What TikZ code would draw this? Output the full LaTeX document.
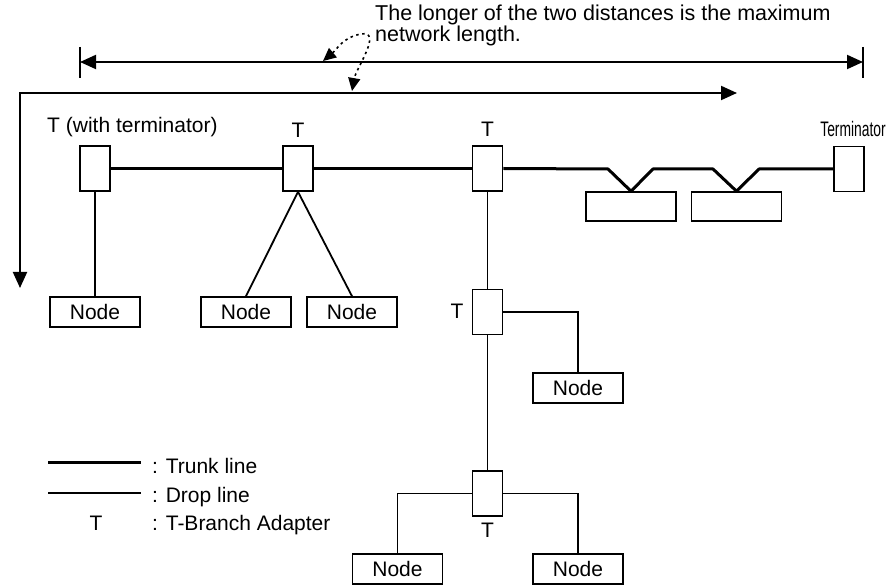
\documentclass[tikz,border=0pt]{standalone}
\usepackage{fontspec}
\setmainfont{Liberation Sans}
\usetikzlibrary{arrows.meta}
\begin{document}
\begin{tikzpicture}[x=1pt,y=-1pt,
  lbl/.style={font=\fontsize{21}{25}\selectfont, inner sep=0pt},
  toptext/.style={font=\fontsize{21.5}{25}\selectfont, inner sep=0pt},
  tbox/.style={draw, line width=1.6pt, fill=white, minimum width=30pt, minimum height=45pt, inner sep=0pt},
  nodebox/.style={draw, line width=1.6pt, fill=white, minimum width=90pt, minimum height=30pt, inner sep=0pt, font=\fontsize{21}{25}\selectfont},
  ifbox/.style={draw, line width=1.6pt, fill=white, minimum width=90pt, minimum height=29pt, inner sep=0pt},
  trunk/.style={line width=3pt},
  drop/.style={line width=1.8pt},
  dimline/.style={line width=2pt, {Triangle[length=16pt,width=14pt]}-{Triangle[length=16pt,width=14pt]}},
  dotarrow/.style={line width=1.6pt, dash pattern=on 2.5pt off 3.5pt, {Triangle[length=13pt,width=12pt]}-{Triangle[length=13pt,width=12pt]}},
]
\useasboundingbox (0,0) rectangle (887,585);

% top text
\node[toptext, anchor=base west] (txt1) at (375,21) {The longer of the two distances is the maximum};
\node[toptext, anchor=base west] (txt2) at (375,41.5) {network length.};

% dimension line
\coordinate (dl) at (80,62);
\coordinate (dr) at (863,62);
\draw[line width=1.5pt] (80,47) -- (80,78);
\draw[line width=1.5pt] (863,47) -- (863,78);
\draw[dimline] (dl) -- (dr);

% second arrow
\coordinate (a0) at (20,288);
\coordinate (a1) at (737,93);
\draw[dimline] (a0) |- (a1);

% dotted arrow
\coordinate (p1) at (323,61);
\coordinate (pm) at (361,34);
\coordinate (p2) at (352,91);
\draw[dotarrow] (p1) to[out=40,in=190] (pm) to[out=10,in=80] (p2);

% boxes
\node[tbox] (t1) at (95,168.5) {};
\node[tbox] (t2) at (298,168.5) {};
\node[tbox] (t3) at (487.5,168.5) {};
\node[tbox] (t4) at (487.5,312) {};
\node[tbox] (t5) at (487.5,493.5) {};
\node[tbox] (term) at (849,169) {};
\node[ifbox] (ifa) at (631,206.5) {};
\node[ifbox] (ifb) at (736.5,206.5) {};

\node[nodebox] (n1) at (95,312) {Node};
\node[nodebox] (n2) at (246,312) {Node};
\node[nodebox] (n3) at (352,312) {Node};
\node[nodebox] (n4) at (578,388) {Node};
\node[nodebox] (n5) at (397.5,569) {Node};
\node[nodebox] (n6) at (578,569) {Node};

% trunk line
\coordinate (b1) at (608,169);
\coordinate (b2) at (653,169);
\coordinate (b3) at (713,169);
\coordinate (b4) at (759,169);
\draw[trunk] (t1.east) -- (t2.west);
\draw[trunk] (t2.east) -- (t3.west);
\draw[trunk, line join=round] (t3.east) -- (b1) -- (ifa.north) -- (b2) -- (b3) -- (ifb.north) -- (b4) -- (term.west);

% drop lines
\draw[drop] (t1.south) -- (n1.north);
\draw[drop] (t2.south) -- (n2.north);
\draw[drop] (t2.south) -- (n3.north);
\draw[drop] (t3.south) -- (t4.north);
\draw[drop] (t4.east) -| (n4.north);
\draw[drop] (t4.south) -- (t5.north);
\draw[drop] (t5.east) -| (n6.north);
\draw[drop] (t5.west) -| (n5.north);

% labels
\node[lbl, anchor=base west] (lt1) at (47,133) {T (with terminator)};
\node[lbl, anchor=base] (lt2) at (298,138) {T};
\node[lbl, anchor=base] (lt3) at (487.5,137) {T};
\node[lbl, anchor=base] (lt4) at (457,319) {T};
\node[lbl, anchor=base] (lt5) at (487.5,537) {T};
\node[lbl, anchor=base east] (lterm) at (886,137) {\scalebox{0.66}[1]{Terminator}};

% legend
\coordinate (k1a) at (48,463);
\coordinate (k1b) at (141,463);
\coordinate (k2a) at (48,493);
\coordinate (k2b) at (141,493);
\draw[trunk] (k1a) -- (k1b);
\draw[drop] (k2a) -- (k2b);
\node[lbl, anchor=base west] (g1) at (152,473) {: Trunk line};
\node[lbl, anchor=base west] (g2) at (152,502) {: Drop line};
\node[lbl, anchor=base] (g3) at (96,530) {T};
\node[lbl, anchor=base west] (g4) at (152,530) {: T-Branch Adapter};
\end{tikzpicture}
\end{document}
